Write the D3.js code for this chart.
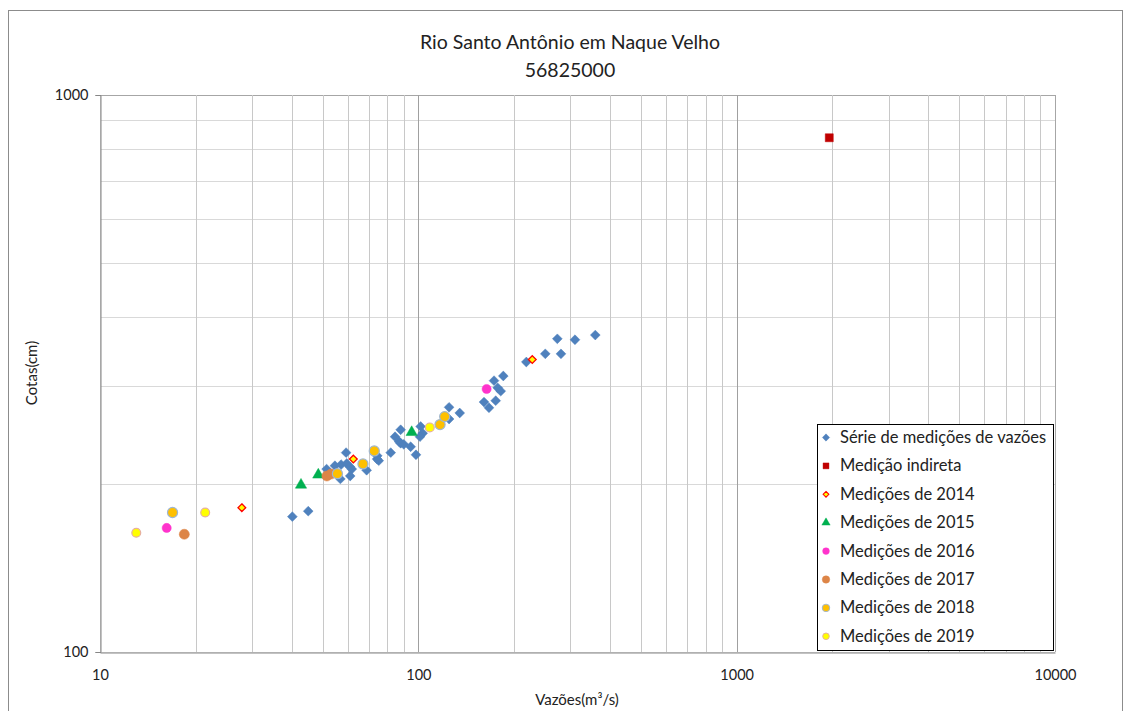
<!DOCTYPE html>
<html><head><meta charset="utf-8">
<script src="https://cdn.jsdelivr.net/npm/d3@7"></script>
<style>body{margin:0;background:#fff}svg{display:block;font-family:Lato,"Open Sans",sans-serif}</style>
</head><body><svg id="c" width="1131" height="711"></svg>
<script>
// ---- data (Vazão m³/s, Cota cm) ----
const serieQ = [40.2,45.1,51.5,54.7,57.2,59.6,61.0,61.8,59.3,56.9,61.1,68.8,74.2,74.3,75.1,81.9,84.5,88.0,87.1,88.0,90.0,94.6,98.3,101.7,103.2,101.2,124.9,124.9,134.9,160.8,166.7,175.0,177.5,181.5,172.9,184.9,218.4,250.5,280.6,273.3,310.5,359.7];
const serieH = [175,179,213,216,217,218,215,213,228,204.5,207,212,222,225,220.5,228,243.5,250.6,238.5,237,236,233.6,226,254,247,243.5,275,262,268.6,281,274.5,282.6,298,294,307,313,331.6,343,343,365,363.6,370.7];
const indiretaQ = [1954];
const indiretaH = [838];
const m2014Q = [27.9,62.5,228];
const m2014H = [181.6,222,335];
const m2015Q = [42.8,48.5,95.3];
const m2015H = [199.5,208,248];
const m2016Q = [16.2,163.9];
const m2016H = [167,296.6];
const m2017Q = [18.4,51.6,53.2];
const m2017H = [162.7,207,208.7];
const m2018Q = [16.9,55.7,67.0,72.7,117.0,121.0];
const m2018H = [178,209,217.6,229.6,256,264.6];
const m2019Q = [13.0,21.4,108.6];
const m2019H = [163.7,178,253];
const xTickLabels = [10,100,1000,10000];
const yTickLabels = [100,1000];
const seriesNames = ["Série de medições de vazões","Medição indireta","Medições de 2014","Medições de 2015","Medições de 2016","Medições de 2017","Medições de 2018","Medições de 2019"];

const svg = d3.select("#c");
const L=100,R=1055,T=95,B=652;
const x = d3.scaleLog().domain([10,10000]).range([L,R]);
const y = d3.scaleLog().domain([100,1000]).range([B,T]);

// outer border
svg.append("rect").attr("x",8.5).attr("y",10.5).attr("width",1114).attr("height",760)
  .attr("fill","none").attr("stroke","#8c8c8c");

// title
svg.append("text").attr("x",570).attr("y",49).attr("text-anchor","middle").attr("font-size",19.5).attr("fill","#222").text("Rio Santo Antônio em Naque Velho");
svg.append("text").attr("x",570).attr("y",77).attr("text-anchor","middle").attr("font-size",19.5).attr("fill","#222").text("56825000");

// grid
const g = svg.append("g");
g.selectAll("line.h").data(y.ticks()).join("line")
  .attr("x1",L).attr("x2",R).attr("y1",d=>Math.round(y(d))+0.5).attr("y2",d=>Math.round(y(d))+0.5)
  .attr("stroke",d=>d===1000?"#a6a6a6":"#d9d9d9");
g.selectAll("line.v").data(x.ticks()).join("line")
  .attr("y1",T).attr("y2",B).attr("x1",d=>Math.round(x(d))+0.5).attr("x2",d=>Math.round(x(d))+0.5)
  .attr("stroke",d=>[100,1000].includes(d)?"#a0a0a0":(d===10000?"#a6a6a6":"#c8c8c8"));

// axes
const ya = svg.append("g").attr("transform",`translate(${L+0.5},0)`)
  .call(d3.axisLeft(y).tickValues(yTickLabels).tickFormat(d3.format("d")).tickSize(5).tickPadding(7));
const xa = svg.append("g").attr("transform",`translate(0,${B+0.5})`)
  .call(d3.axisBottom(x).tickValues(xTickLabels).tickFormat(d3.format("d")).tickSize(0).tickPadding(17));
[ya,xa].forEach(a=>{a.select(".domain").attr("stroke","#868686");a.selectAll(".tick line").attr("stroke","#868686");
  a.selectAll("text").attr("font-size",14.5).attr("fill","#222").attr("font-family","Lato,sans-serif");});

svg.append("text").attr("transform","translate(37,373) rotate(-90)").attr("text-anchor","middle").attr("font-size",15).attr("fill","#222").text("Cotas(cm)");
svg.append("text").attr("x",577).attr("y",705).attr("text-anchor","middle").attr("font-size",15).attr("fill","#222").text("Vazões(m³/s)");

// marker styles
const diamond = {draw(ctx,size){const r=Math.sqrt(size/2);ctx.moveTo(0,-r);ctx.lineTo(r,0);ctx.lineTo(0,r);ctx.lineTo(-r,0);ctx.closePath();}};
const styles = [
  {sym:diamond, size:48, fill:"#4f81bd", stroke:"#4f81bd", sw:0.5},
  {sym:d3.symbolSquare, size:64, fill:"#c00000", stroke:"#c00000", sw:0.5},
  {sym:diamond, size:30, fill:"#ffff00", stroke:"#ff0000", sw:1.3},
  {sym:d3.symbolTriangle, size:55, fill:"#00b050", stroke:"#00b050", sw:0.5},
  {sym:d3.symbolCircle, size:66, fill:"#ff33cc", stroke:"#ff33cc", sw:0.5},
  {sym:d3.symbolCircle, size:80, fill:"#dd8547", stroke:"#dd8547", sw:0.5},
  {sym:d3.symbolCircle, size:80, fill:"#ffc000", stroke:"#9fb6d2", sw:1.2},
  {sym:d3.symbolCircle, size:62, fill:"#ffff00", stroke:"#e6b0a0", sw:1.2}
];
const data = [[serieQ,serieH],[indiretaQ,indiretaH],[m2014Q,m2014H],[m2015Q,m2015H],[m2016Q,m2016H],[m2017Q,m2017H],[m2018Q,m2018H],[m2019Q,m2019H]];
data.forEach(([qs,hs],i)=>{
  const s=styles[i];
  svg.append("g").selectAll("path").data(qs.map((q,j)=>[q,hs[j]])).join("path")
    .attr("transform",d=>`translate(${x(d[0])},${y(d[1])})`)
    .attr("d",d3.symbol().type(s.sym).size(s.size)())
    .attr("fill",s.fill).attr("stroke",s.stroke).attr("stroke-width",s.sw);
});

// legend
const lg = svg.append("g");
lg.append("rect").attr("x",817.5).attr("y",424.5).attr("width",236).attr("height",226).attr("fill","#fff").attr("stroke","#000");
seriesNames.forEach((n,i)=>{
  const cy = 437.5 + i*28.4;
  const s=styles[i];
  lg.append("path").attr("transform",`translate(826,${cy})`).attr("d",d3.symbol().type(s.sym).size(s.size*0.55)())
    .attr("fill",s.fill).attr("stroke",s.stroke).attr("stroke-width",s.sw*0.8);
  lg.append("text").attr("x",840).attr("y",cy+5.5).attr("font-size",16.5).attr("fill","#222").text(n);
});
</script></body></html>
